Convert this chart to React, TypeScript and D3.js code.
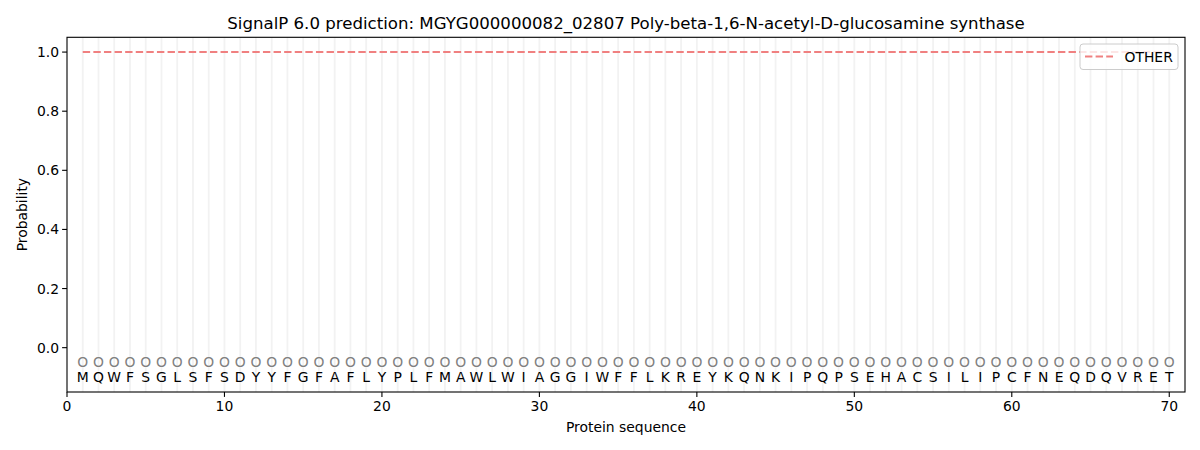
import React from "react";
import * as d3 from "d3";

const title = "SignalP 6.0 prediction: MGYG000000082_02807 Poly-beta-1,6-N-acetyl-D-glucosamine synthase";
const sequence = "MQWFSGLSFSDYYFGFAFLYPLFMAWLWIAGGIWFFLKREYKQNKIPQPSEHACSILIPCFNEQDQVRET".split("");
const predictedLabels = sequence.map(() => "O");
const otherProb = sequence.map(() => 1.0);
const xTicks = [0, 10, 20, 30, 40, 50, 60, 70];
const yTicks = [0.0, 0.2, 0.4, 0.6, 0.8, 1.0];
const seriesName = "OTHER";

const W = 1200;
const H = 450;
const left = 67;
const right = 1185;
const top = 37.3;
const bottom = 392;

export default function App() {
  const x = d3.scaleLinear().domain([0, 71]).range([left, right]);
  const y = d3.scaleLinear().domain([-0.15, 1.05]).range([bottom, top]);
  const positions = sequence.map((_, i) => i + 1);
  const line = d3
    .line<number>()
    .x((_, i) => x(positions[i]))
    .y((d) => y(d));
  const font = "DejaVu Sans, sans-serif";
  return (
    <svg
      width={W}
      height={H}
      style={{ position: "absolute", left: 0, top: 0, background: "#fff" }}
      fontFamily={font}
    >
      <rect x={0} y={0} width={W} height={H} fill="#fff" />
      {positions.map((p) => (
        <line
          key={"g" + p}
          x1={x(p)}
          x2={x(p)}
          y1={top}
          y2={bottom}
          stroke="#f2f2f2"
          strokeWidth={1.8}
        />
      ))}
      <path
        d={line(otherProb) || ""}
        fill="none"
        stroke="#f08080"
        strokeWidth={2}
        strokeDasharray="7.4,3.2"
      />
      {positions.map((p, i) => (
        <text
          key={"o" + p}
          x={x(p)}
          y={y(-0.05)}
          textAnchor="middle"
          dominantBaseline="central"
          fontSize={13.9}
          fill="#808080"
        >
          {predictedLabels[i]}
        </text>
      ))}
      {positions.map((p, i) => (
        <text
          key={"s" + p}
          x={x(p)}
          y={y(-0.1)}
          textAnchor="middle"
          dominantBaseline="central"
          fontSize={13.9}
          fill="#000"
        >
          {sequence[i]}
        </text>
      ))}
      <rect
        x={left}
        y={top}
        width={right - left}
        height={bottom - top}
        fill="none"
        stroke="#000"
        strokeWidth={1.1}
      />
      {xTicks.map((t) => (
        <g key={"xt" + t}>
          <line x1={x(t)} x2={x(t)} y1={bottom} y2={bottom + 4.9} stroke="#000" strokeWidth={1.1} />
          <text x={x(t)} y={bottom + 19} textAnchor="middle" fontSize={13.9} fill="#000">
            {t}
          </text>
        </g>
      ))}
      {yTicks.map((t) => (
        <g key={"yt" + t}>
          <line x1={left - 4.9} x2={left} y1={y(t)} y2={y(t)} stroke="#000" strokeWidth={1.1} />
          <text
            x={left - 8}
            y={y(t)}
            textAnchor="end"
            dominantBaseline="central"
            fontSize={13.9}
            fill="#000"
          >
            {t.toFixed(1)}
          </text>
        </g>
      ))}
      <text x={(left + right) / 2} y={432} textAnchor="middle" fontSize={13.9} fill="#000">
        Protein sequence
      </text>
      <text
        transform={`translate(26.5, ${(top + bottom) / 2}) rotate(-90)`}
        textAnchor="middle"
        fontSize={13.9}
        fill="#000"
      >
        Probability
      </text>
      <text x={(left + right) / 2} y={29} textAnchor="middle" fontSize={16.6} fill="#000">
        {title}
      </text>
      <g>
        <rect
          x={1080}
          y={44}
          width={98}
          height={25.5}
          rx={3}
          fill="#fff"
          fillOpacity={0.8}
          stroke="#cccccc"
          strokeWidth={1}
        />
        <line
          x1={1085}
          x2={1113}
          y1={56.5}
          y2={56.5}
          stroke="#f08080"
          strokeWidth={2}
          strokeDasharray="7.4,3.2"
        />
        <text x={1124.5} y={56.5} dominantBaseline="central" fontSize={13.9} fill="#000">
          {seriesName}
        </text>
      </g>
    </svg>
  );
}
